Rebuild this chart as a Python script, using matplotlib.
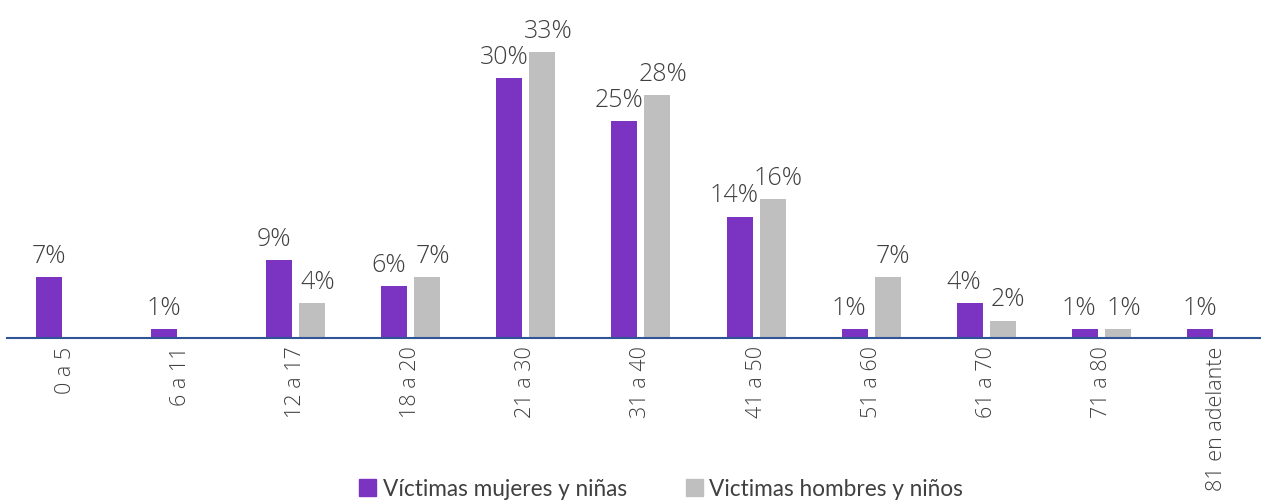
import numpy as np
import matplotlib.pyplot as plt
from matplotlib.patches import Patch

plt.rcParams['font.family'] = ['Open Sans', 'DejaVu Sans']

# datos
categorias = ['0 a 5', '6 a 11', '12 a 17', '18 a 20', '21 a 30', '31 a 40',
              '41 a 50', '51 a 60', '61 a 70', '71 a 80', '81 en adelante']
mujeres = [7, 1, 9, 6, 30, 25, 14, 1, 4, 1, 1]
hombres = [None, None, 4, 7, 33, 28, 16, 7, 2, 1, None]

c_mujeres = '#7B33C2'
c_hombres = '#BFBFBF'
c_texto = '#404040'

fig = plt.figure(figsize=(12.61, 5.0), dpi=100)
ax = fig.add_axes([7 / 1261, 162 / 500, 1254 / 1261, 303.5 / 500])

x = np.arange(len(categorias))
w = 0.226
d = 0.1435

for i in range(len(categorias)):
    par = mujeres[i] is not None and hombres[i] is not None
    dx = 4 if par else 0
    if mujeres[i] is not None:
        ax.bar(x[i] - d, mujeres[i], w, color=c_mujeres)
        ax.annotate(f'{mujeres[i]}%', (x[i] - d, mujeres[i]), xytext=(-dx, 6),
                    textcoords='offset points', ha='center', va='bottom',
                    fontsize=18, color=c_texto, fontweight='light')
    if hombres[i] is not None:
        ax.bar(x[i] + d, hombres[i], w, color=c_hombres)
        ax.annotate(f'{hombres[i]}%', (x[i] + d, hombres[i]), xytext=(dx, 6),
                    textcoords='offset points', ha='center', va='bottom',
                    fontsize=18, color=c_texto, fontweight='light')

ax.set_xlim(-0.508, 10.387)
ax.set_ylim(0, 35)
ax.set_xticks(x)
ax.set_xticklabels(categorias, rotation=90, fontsize=15.5, color=c_texto,
                   fontweight='light')
ax.tick_params(axis='x', length=0, pad=6)
ax.set_yticks([])
for s in ['top', 'right', 'left']:
    ax.spines[s].set_visible(False)
ax.spines['bottom'].set_color('#2F5597')
ax.spines['bottom'].set_linewidth(1.5)

handles = [Patch(color=c_mujeres, label='Víctimas mujeres y niñas'),
           Patch(color=c_hombres, label='Victimas hombres y niños')]
fig.legend(handles=handles, loc='center', bbox_to_anchor=(661 / 1261, 1 - 489 / 500),
           ncol=2, frameon=False, handlelength=0.75, handleheight=0.75,
           handletextpad=0.3, columnspacing=2.6,
           prop={'family': 'Lato', 'size': 16.3}, labelcolor=c_texto)

fig.savefig('out.png', dpi=100)
